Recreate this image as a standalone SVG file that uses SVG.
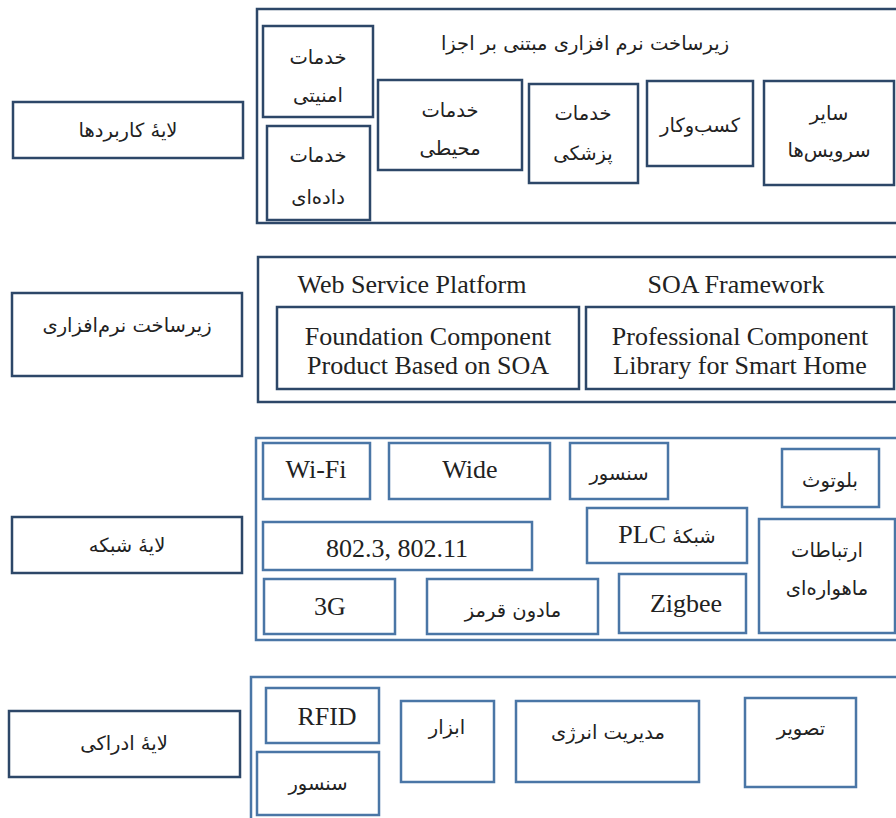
<svg xmlns="http://www.w3.org/2000/svg" width="896" height="818" viewBox="0 0 896 818">
<style>
.bg{fill:#ffffff}
.dk{fill:#ffffff;stroke:#2d4768;stroke-width:2.5}
.lt{fill:#ffffff;stroke:#4a76a6;stroke-width:2.5}
.fa{font-family:"DejaVu Sans","Noto Sans",sans-serif;font-size:19.5px;fill:#222;text-anchor:middle;direction:rtl}
.en{font-family:"Liberation Serif","Times New Roman",serif;font-size:26px;fill:#222;text-anchor:middle}
</style>
<rect class="bg" x="0" y="0" width="896" height="818"/>

<!-- Application layer -->
<g id="app-label"><rect class="dk" x="13" y="102" width="230" height="56"/><text class="fa" x="128" y="137">لایهٔ کاربردها</text></g>
<g id="app-layer">
<rect class="dk" x="257" y="9" width="645" height="214"/>
<text class="fa" x="585" y="50">زیرساخت نرم افزاری مبتنی بر اجزا</text>
</g>
<g id="app-security"><rect class="dk" x="263" y="26" width="110" height="91"/><text class="fa" x="318" y="64">خدمات</text><text class="fa" x="318" y="102">امنیتی</text></g>
<g id="app-data"><rect class="dk" x="267" y="126" width="103" height="94"/><text class="fa" x="318" y="162">خدمات</text><text class="fa" x="318" y="204">داده‌ای</text></g>
<g id="app-env"><rect class="dk" x="378" y="80" width="144" height="90"/><text class="fa" x="450" y="117">خدمات</text><text class="fa" x="450" y="155">محیطی</text></g>
<g id="app-med"><rect class="dk" x="529" y="84" width="109" height="99"/><text class="fa" x="583" y="120">خدمات</text><text class="fa" x="583" y="160">پزشکی</text></g>
<g id="app-biz"><rect class="dk" x="647" y="81" width="106" height="85"/><text class="fa" x="700" y="132">کسب‌وکار</text></g>
<g id="app-other"><rect class="dk" x="764" y="81" width="130" height="104"/><text class="fa" x="829" y="120">سایر</text><text class="fa" x="829" y="157">سرویس‌ها</text></g>

<!-- Software infrastructure -->
<g id="sw-label"><rect class="dk" x="12" y="293" width="230" height="83"/><text class="fa" x="127" y="332">زیرساخت نرم‌افزاری</text></g>
<g id="sw-layer">
<rect class="dk" x="258" y="257" width="645" height="145"/>
<text class="en" x="412" y="293">Web Service Platform</text>
<text class="en" x="736" y="293">SOA Framework</text>
</g>
<g id="sw-foundation"><rect class="dk" x="277" y="307" width="302" height="82"/><text class="en" x="428" y="345">Foundation Component</text><text class="en" x="428" y="374">Product Based on SOA</text></g>
<g id="sw-professional"><rect class="dk" x="586" y="307" width="308" height="82"/><text class="en" x="740" y="345">Professional Component</text><text class="en" x="740" y="374">Library for Smart Home</text></g>

<!-- Network layer -->
<g id="net-label"><rect class="dk" x="12" y="517" width="230" height="56"/><text class="fa" x="127" y="552">لایهٔ شبکه</text></g>
<g id="net-layer"><rect class="lt" x="256" y="438" width="645" height="202"/></g>
<g id="net-wifi"><rect class="lt" x="263" y="443" width="107" height="56"/><text class="en" x="316" y="478">Wi-Fi</text></g>
<g id="net-wide"><rect class="lt" x="389" y="443" width="161" height="56"/><text class="en" x="470" y="478">Wide</text></g>
<g id="net-sensor"><rect class="lt" x="570" y="443" width="98" height="56"/><text class="fa" x="619" y="480">سنسور</text></g>
<g id="net-bt"><rect class="lt" x="782" y="449" width="97" height="58"/><text class="fa" x="830" y="487">بلوتوث</text></g>
<g id="net-802"><rect class="lt" x="263" y="522" width="269" height="48"/><text class="en" x="397" y="557">802.3, 802.11</text></g>
<g id="net-plc"><rect class="lt" x="587" y="508" width="160" height="55"/><text class="fa" x="667" y="543"><tspan>شبکهٔ </tspan><tspan style="font-family:'Liberation Serif',serif;font-size:26px">PLC</tspan></text></g>
<g id="net-sat"><rect class="lt" x="759" y="519" width="136" height="114"/><text class="fa" x="827" y="557">ارتباطات</text><text class="fa" x="827" y="595">ماهواره‌ای</text></g>
<g id="net-3g"><rect class="lt" x="264" y="579" width="131" height="55"/><text class="en" x="330" y="615">3G</text></g>
<g id="net-ir"><rect class="lt" x="427" y="579" width="171" height="55"/><text class="fa" x="513" y="617">مادون قرمز</text></g>
<g id="net-zigbee"><rect class="lt" x="619" y="574" width="127" height="59"/><text class="en" x="686" y="612">Zigbee</text></g>

<!-- Perception layer -->
<g id="per-label"><rect class="dk" x="9" y="711" width="231" height="66"/><text class="fa" x="124" y="750">لایهٔ ادراکی</text></g>
<g id="per-layer"><rect class="lt" x="251" y="677" width="650" height="160"/></g>
<g id="per-rfid"><rect class="lt" x="266" y="688" width="113" height="55"/><text class="en" x="327" y="725">RFID</text></g>
<g id="per-sensor"><rect class="lt" x="257" y="752" width="122" height="63"/><text class="fa" x="318" y="790">سنسور</text></g>
<g id="per-tool"><rect class="lt" x="401" y="701" width="93" height="81"/><text class="fa" x="447" y="734">ابزار</text></g>
<g id="per-energy"><rect class="lt" x="516" y="701" width="183" height="81"/><text class="fa" x="608" y="739">مدیریت انرژی</text></g>
<g id="per-image"><rect class="lt" x="745" y="698" width="111" height="89"/><text class="fa" x="801" y="735">تصویر</text></g>

<g id="connectors"></g>
</svg>
